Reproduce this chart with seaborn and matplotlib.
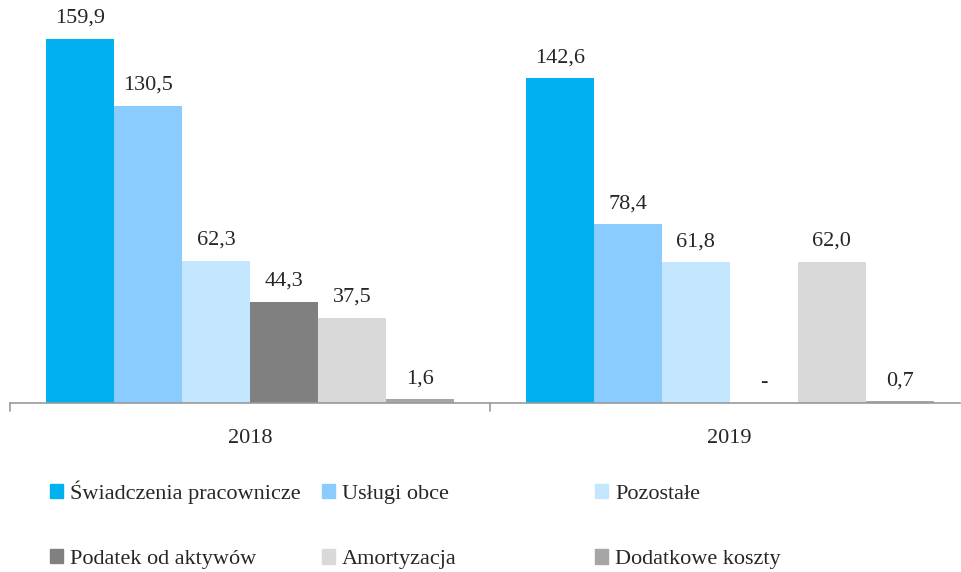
import pandas as pd
import matplotlib.pyplot as plt
import matplotlib.patches as mpatches
import seaborn as sns

years = ["2018", "2019"]
categories = [
    "Świadczenia pracownicze",
    "Usługi obce",
    "Pozostałe",
    "Podatek od aktywów",
    "Amortyzacja",
    "Dodatkowe koszty",
]
values_2018 = [159.9, 130.5, 62.3, 44.3, 37.5, 1.6]
values_2019 = [142.6, 78.4, 61.8, 0.0, 62.0, 0.7]
colors = ["#00B0F0", "#8BCCFE", "#C5E6FF", "#808080", "#D9D9D9", "#A6A6A6"]

df = pd.DataFrame({
    "rok": [y for y in years for _ in categories],
    "kategoria": categories * 2,
    "wartosc": values_2018 + values_2019,
})

sns.set_style("white")
plt.rcParams["font.family"] = ["Liberation Serif", "DejaVu Serif"]

fig = plt.figure(figsize=(9.61, 5.72), dpi=100)
ax = fig.add_axes([10 / 961, 1 - 403 / 572, 950 / 961, 403 / 572])

sns.barplot(data=df, x="rok", y="wartosc", hue="kategoria", hue_order=categories,
            palette=colors, width=0.85, gap=0, saturation=1, linewidth=0,
            ax=ax, legend=False)

ax.set_ylim(0, 177)
ax.set_xlim(-0.5, 1.48)
ax.set_xlabel("")
ax.set_ylabel("")
ax.set_yticks([])
for side in ["top", "right", "left"]:
    ax.spines[side].set_visible(False)
ax.spines["bottom"].set_color("#999999")
ax.spines["bottom"].set_linewidth(1.2)

# category labels + tick marks between groups
ax.set_xticks([0, 1])
ax.set_xticklabels(years, fontsize=16)
ax.tick_params(axis="x", length=0, pad=19)
for xt in [-0.5, 0.5]:
    ax.plot([xt, xt], [0, -3.5], color="#999999", lw=1.2, clip_on=False)

for cont, cat in zip(ax.containers, categories):
    i = categories.index(cat)
    labels = []
    for v in [values_2018[i], values_2019[i]]:
        labels.append("-" if v == 0 else f"{v:.1f}".replace(".", ","))
    ax.bar_label(cont, labels=labels, padding=8, fontsize=16)

# legend, three columns with two rows each
col_x = [50 / 961, 322 / 961, 595 / 961]
col_top = [480, 484, 484]
for c in range(3):
    handles = [mpatches.Patch(color=colors[c + r * 3], label=categories[c + r * 3])
               for r in range(2)]
    fig.legend(handles=handles, loc="upper left",
               bbox_to_anchor=(col_x[c], 1 - col_top[c] / 572), frameon=False,
               fontsize=16, handlelength=0.6, handleheight=0.6,
               handletextpad=0.3, labelspacing=2.05, borderaxespad=0,
               borderpad=0)

fig.savefig("out.png", dpi=100)
